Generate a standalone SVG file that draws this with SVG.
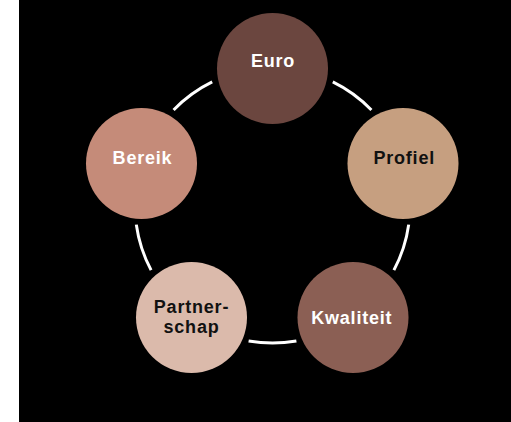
<svg xmlns="http://www.w3.org/2000/svg" width="511" height="422" viewBox="0 0 511 422">
<style>
.arc{fill:none;stroke:#ffffff;stroke-width:3}
.lbl{font-family:"Liberation Sans",Arial,sans-serif;font-weight:bold;font-size:18px;letter-spacing:0.8px;text-anchor:middle}
.w{fill:#ffffff}
.k{fill:#111111}
</style>
<rect x="0" y="0" width="511" height="422" fill="#ffffff"/>
<rect x="19" y="0" width="492" height="422" fill="#000000"/>
<g id="connectors">
<path class="arc" d="M332.8,81.9 A137.5,137.5 0 0 1 371.4,110"/>
<path class="arc" d="M408.7,224.6 A137.5,137.5 0 0 1 393.9,270.1"/>
<path class="arc" d="M296.4,340.9 A137.5,137.5 0 0 1 248.6,340.9"/>
<path class="arc" d="M151.1,270.1 A137.5,137.5 0 0 1 136.3,224.6"/>
<path class="arc" d="M173.6,110 A137.5,137.5 0 0 1 212.2,81.9"/>
</g>
<g id="euro">
<circle cx="272.5" cy="68.5" r="55.5" fill="#6b463f"/>
<text class="lbl w" x="273" y="67">Euro</text>
</g>
<g id="profiel">
<circle cx="403" cy="163.5" r="55.5" fill="#c69f80"/>
<text class="lbl k" x="404.2" y="163.5">Profiel</text>
</g>
<g id="kwaliteit">
<circle cx="353" cy="317.5" r="55.5" fill="#8b5f54"/>
<text class="lbl w" x="351.8" y="324">Kwaliteit</text>
</g>
<g id="partnerschap">
<circle cx="191.5" cy="317.5" r="55.5" fill="#dbbaab"/>
<text class="lbl k" x="191.5" y="313">Partner-</text>
<text class="lbl k" x="191.5" y="333">schap</text>
</g>
<g id="bereik">
<circle cx="141.5" cy="163.5" r="55.5" fill="#c58b79"/>
<text class="lbl w" x="142.5" y="163.5">Bereik</text>
</g>
</svg>
